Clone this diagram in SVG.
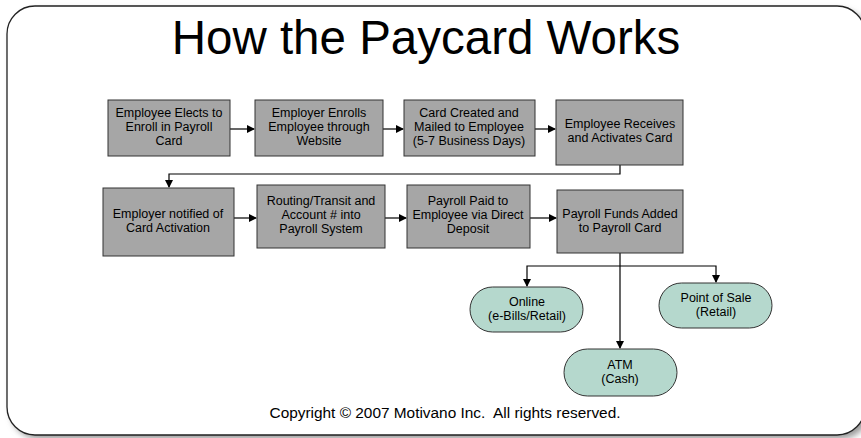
<svg xmlns="http://www.w3.org/2000/svg" width="861" height="438" viewBox="0 0 861 438">
<defs>
<style>
.box{fill:#a6a6a6;stroke:#333;stroke-width:1}
.pill{fill:#b5d8cd;stroke:#333;stroke-width:1}
.t{font-family:"Liberation Sans",Arial,sans-serif;font-size:12.5px;fill:#000;text-anchor:middle}
.c{fill:none;stroke:#000;stroke-width:1.2}
</style>
<marker id="ah" markerWidth="8" markerHeight="8" refX="7" refY="4" orient="auto" markerUnits="userSpaceOnUse">
<path d="M0,0 L8,4 L0,8 Z" fill="#000"/>
</marker>
<filter id="sh" x="-5%" y="-5%" width="110%" height="110%">
<feGaussianBlur stdDeviation="3"/>
</filter>
</defs>
<rect x="0" y="0" width="861" height="438" fill="#fff"/>
<rect x="11" y="10" width="858" height="429" rx="28" fill="#999" filter="url(#sh)"/>
<rect x="7" y="6" width="858" height="429" rx="28" fill="#fff" stroke="#222" stroke-width="1.3"/>
<text x="426" y="54" font-family="'Liberation Sans',Arial,sans-serif" font-size="47.5" text-anchor="middle" fill="#000">How the Paycard Works</text>

<g id="connectors">
<path class="c" d="M230,129 L254,129" marker-end="url(#ah)"/>
<path class="c" d="M383,129 L403,129" marker-end="url(#ah)"/>
<path class="c" d="M535,129 L555,129" marker-end="url(#ah)"/>
<path class="c" d="M620,165 L620,174 L169,174 L169,187" marker-end="url(#ah)" stroke="#555"/>
<path class="c" d="M234,218 L256,218" marker-end="url(#ah)"/>
<path class="c" d="M385,218 L406,218" marker-end="url(#ah)"/>
<path class="c" d="M530,218 L556,218" marker-end="url(#ah)"/>
<path class="c" d="M620,253 L620,348" marker-end="url(#ah)"/>
<path class="c" d="M620,266 L527,266 L527,286" marker-end="url(#ah)"/>
<path class="c" d="M620,266 L716,266 L716,282" marker-end="url(#ah)"/>
</g>

<g id="n1"><rect class="box" x="108" y="100" width="122" height="56"/>
<text class="t" x="169" y="117">Employee Elects to</text><text class="t" x="169" y="131">Enroll in Payroll</text><text class="t" x="169" y="145">Card</text></g>
<g id="n2"><rect class="box" x="255" y="100" width="128" height="56"/>
<text class="t" x="319" y="117">Employer Enrolls</text><text class="t" x="319" y="131">Employee through</text><text class="t" x="319" y="145">Website</text></g>
<g id="n3"><rect class="box" x="404" y="100" width="131" height="56"/>
<text class="t" x="469" y="117">Card Created and</text><text class="t" x="469" y="131">Mailed to Employee</text><text class="t" x="469" y="145">(5-7 Business Days)</text></g>
<g id="n4"><rect class="box" x="556" y="100" width="127" height="65"/>
<text class="t" x="620" y="128">Employee Receives</text><text class="t" x="620" y="142">and Activates Card</text></g>
<g id="n5"><rect class="box" x="103" y="188" width="131" height="68"/>
<text class="t" x="168" y="218">Employer notified of</text><text class="t" x="168" y="232">Card Activation</text></g>
<g id="n6"><rect class="box" x="257" y="185" width="128" height="63"/>
<text class="t" x="321" y="205">Routing/Transit and</text><text class="t" x="321" y="219">Account # into</text><text class="t" x="321" y="233">Payroll System</text></g>
<g id="n7"><rect class="box" x="407" y="185" width="123" height="63"/>
<text class="t" x="468" y="205">Payroll Paid to</text><text class="t" x="468" y="219">Employee via Direct</text><text class="t" x="468" y="233">Deposit</text></g>
<g id="n8"><rect class="box" x="557" y="190" width="126" height="63"/>
<text class="t" x="620" y="218">Payroll Funds Added</text><text class="t" x="620" y="232">to Payroll Card</text></g>
<g id="n9"><rect class="pill" x="470" y="287" width="113" height="45" rx="22.5"/>
<text class="t" x="527" y="306">Online</text><text class="t" x="527" y="320">(e-Bills/Retail)</text></g>
<g id="n10"><rect class="pill" x="659" y="283" width="113" height="45" rx="22.5"/>
<text class="t" x="716" y="302">Point of Sale</text><text class="t" x="716" y="316">(Retail)</text></g>
<g id="n11"><rect class="pill" x="564" y="349" width="113" height="47" rx="23.5"/>
<text class="t" x="620" y="369">ATM</text><text class="t" x="620" y="383">(Cash)</text></g>

<text x="445" y="418" font-family="'Liberation Sans',Arial,sans-serif" font-size="15.4" text-anchor="middle" fill="#000" style="white-space:pre">Copyright © 2007 Motivano Inc.  All rights reserved.</text>
</svg>
